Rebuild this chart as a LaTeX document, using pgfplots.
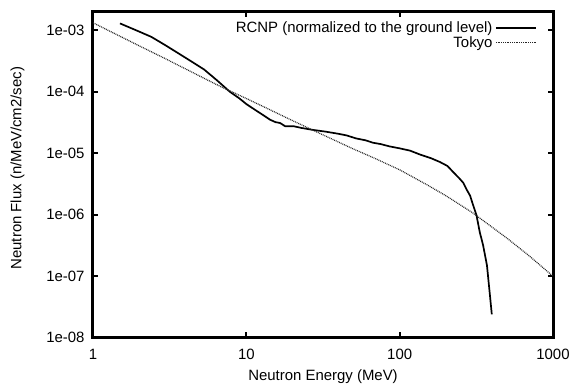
\documentclass[border=0pt]{standalone}
\usepackage{fontspec}
\setmainfont{Liberation Sans}
\usepackage{pgfplots}
\pgfplotsset{compat=1.18}
\begin{document}
\begin{tikzpicture}
\begin{axis}[
  scale only axis,
  width=460bp, height=326bp,
  xmode=log, ymode=log,
  xmin=1, xmax=1000, ymin=1e-8, ymax=2e-3,
  xtick={1,10,100,1000}, xticklabels={1,10,100,1000},
  ytick={1e-8,1e-7,1e-6,1e-5,1e-4,1e-3},
  yticklabels={1e-08,1e-07,1e-06,1e-05,1e-04,1e-03},
  xminorticks=false, yminorticks=false,
  axis line style={line width=3bp},
  tick style={line width=2bp, black},
  major tick length=5.5bp,
  tick align=inside,
  font=\fontsize{15}{18}\selectfont,
  tick label style={font=\fontsize{15}{18}\selectfont},
  xticklabel style={yshift=-8bp},
  yticklabel style={xshift=-5bp},
  xlabel={Neutron Energy (MeV)},
  ylabel={Neutron Flux (n/MeV/cm2/sec)},
  xlabel style={at={(axis description cs:0.5,-0.12)}, anchor=center},
  ylabel style={at={(axis description cs:-0.164,0.52)}, anchor=center},
  legend plot pos=right,
  legend cell align=right,
  legend image code/.code={\draw[#1] (0bp,0bp) -- (40bp,0bp);},
  legend style={at={(axis description cs:0.965,0.978)}, anchor=north east,
    draw=none, fill=none, inner sep=0pt, row sep=-2.5bp,
    font=\fontsize{15}{18}\selectfont,
    nodes={inner sep=2.5bp}},
]
\addplot[black, line width=1.7bp] coordinates {
(1.5,1.29e-3) (2.0,9.5e-4) (2.4,7.8e-4) (3.0,5.6e-4) (4.3,3.2e-4)
(5.3,2.3e-4) (6.4,1.55e-4) (7.8,1.0e-4) (9.0,7.8e-5) (10,6.3e-5)
(11.5,5.0e-5) (13,4.1e-5) (14.3,3.5e-5) (15.5,3.2e-5) (16.6,3.1e-5)
(17.9,2.75e-5) (20.3,2.75e-5) (23,2.57e-5) (27,2.4e-5) (33,2.24e-5)
(39,2.09e-5) (45,1.95e-5) (52,1.74e-5) (60,1.62e-5) (67,1.48e-5)
(75,1.41e-5) (86,1.29e-5) (100,1.2e-5) (117,1.1e-5) (136,9.5e-6)
(160,8.3e-6) (183,7.2e-6) (205,6.2e-6) (224,4.9e-6) (245,3.9e-6)
(260,3.3e-6) (275,2.5e-6) (288,2.04e-6) (300,1.48e-6) (317,9.8e-7)
(333,5.2e-7) (350,3.2e-7) (371,1.5e-7) (388,4.9e-8) (399,2.4e-8)
};
\addlegendentry{RCNP (normalized to the ground level)}
\addplot[black!85, line width=1.2bp, dash pattern=on 0.9bp off 0.9bp] coordinates {
(1,1.32e-3) (1.5,7.98e-4) (2,5.58e-4) (3,3.39e-4) (5,1.78e-4)
(7,1.17e-4) (10,7.76e-5) (15,4.79e-5) (20,3.39e-5) (30,2.11e-5)
(50,1.17e-5) (70,8.1e-6) (100,5.37e-6) (150,3.09e-6) (200,2.04e-6)
(300,1.07e-6) (500,4.17e-7) (700,2.14e-7) (1000,1.0e-7)
};
\addlegendentry{Tokyo}
\end{axis}
\pgfresetboundingbox
\path (current axis.south west) ++(-93bp,-49bp);
\path (current axis.north east) ++(21bp,11.7bp);
\end{tikzpicture}
\end{document}
